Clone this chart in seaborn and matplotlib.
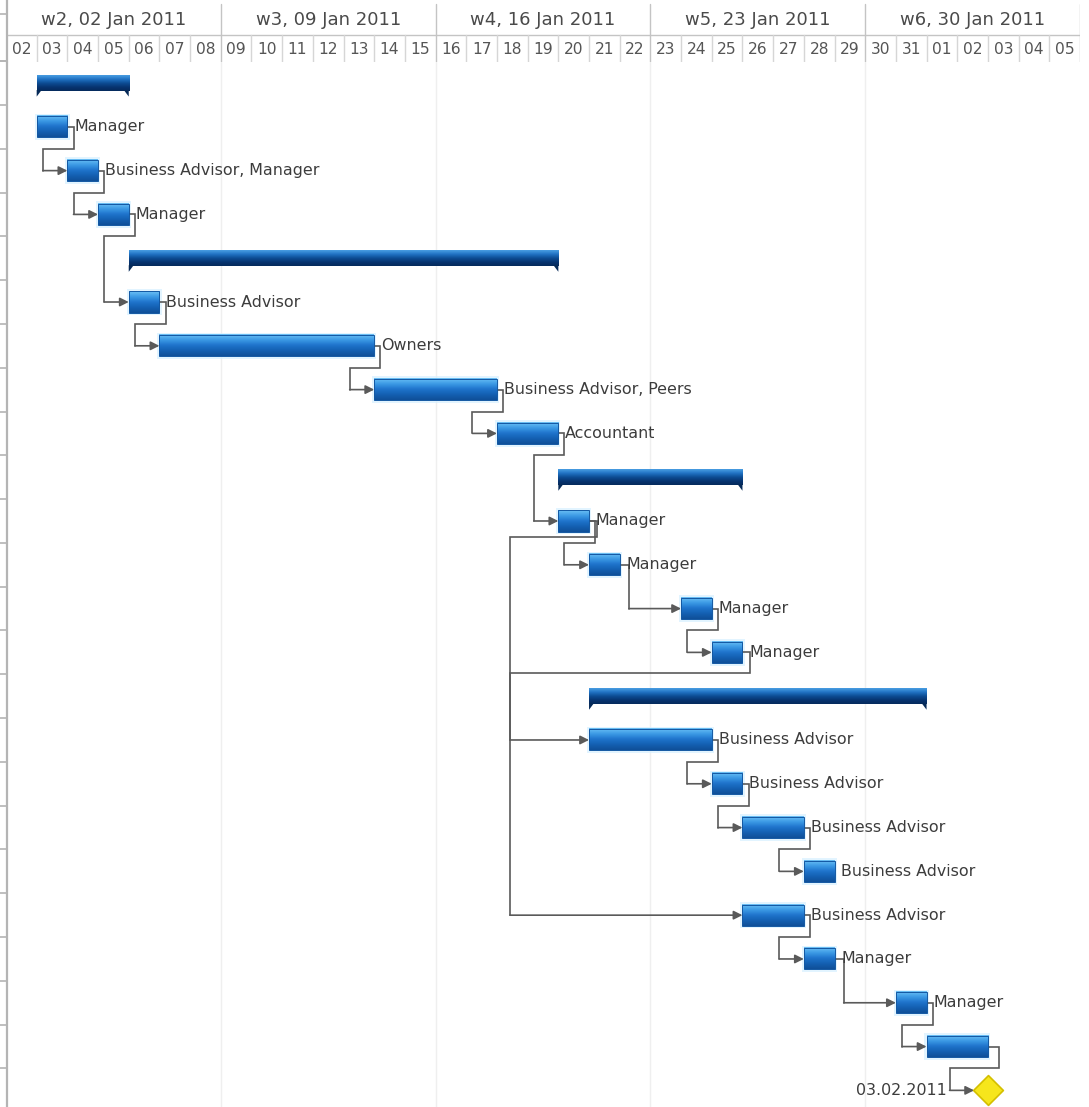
import numpy as np
import matplotlib
matplotlib.use("Agg")
import matplotlib.pyplot as plt
import seaborn as sns
import pandas as pd
from matplotlib.colors import LinearSegmentedColormap
from matplotlib.patches import Rectangle, Polygon

# ---------------- data ----------------
week_labels = ["w2, 02 Jan 2011", "w3, 09 Jan 2011", "w4, 16 Jan 2011",
               "w5, 23 Jan 2011", "w6, 30 Jan 2011"]
week_starts = [0, 7, 14, 21, 28]
day_labels = ["02", "03", "04", "05", "06", "07", "08", "09", "10", "11", "12",
              "13", "14", "15", "16", "17", "18", "19", "20", "21", "22", "23",
              "24", "25", "26", "27", "28", "29", "30", "31", "01", "02", "03",
              "04", "05"]

# day index 0 = 02 Jan 2011
task_start = [1, 1, 2, 3, 4, 4, 5, 12, 16, 18, 18, 19, 22, 23,
              19, 19, 23, 24, 26, 24, 26, 29, 30, 32]
task_end = [4, 2, 3, 4, 18, 5, 12, 16, 18, 24, 19, 20, 23, 24,
            30, 23, 24, 26, 27, 26, 27, 30, 32, 32]
task_kind = ["summary", "task", "task", "task", "summary", "task", "task", "task",
             "task", "summary", "task", "task", "task", "task", "summary", "task",
             "task", "task", "task", "task", "task", "task", "task", "milestone"]
task_label = ["", "Manager", "Business Advisor, Manager", "Manager", "",
              "Business Advisor", "Owners", "Business Advisor, Peers", "Accountant",
              "", "Manager", "Manager", "Manager", "Manager", "",
              "Business Advisor", "Business Advisor", "Business Advisor",
              "Business Advisor", "Business Advisor", "Manager", "Manager", "",
              "03.02.2011"]

dep_from = [1, 2, 3, 5, 6, 7, 8, 10, 11, 12, 10, 13, 15, 16, 17, 19, 20, 21, 22]
dep_to = [2, 3, 5, 6, 7, 8, 10, 11, 12, 13, 15, 19, 16, 17, 18, 20, 21, 22, 23]

df = pd.DataFrame({"row": np.arange(len(task_start)), "start": task_start,
                   "end": task_end, "kind": task_kind, "label": task_label})

# ---------------- style ----------------
sns.set_theme(style="white")
plt.rcParams["font.family"] = ["DejaVu Sans"]

W, H = 1089, 1107
fig = plt.figure(figsize=(W / 100, H / 100), dpi=100)
fig.patch.set_facecolor("white")
x0px, x1px, head_h = 6, 1080, 62
body = fig.add_axes([x0px / W, 0, (x1px - x0px) / W, (H - head_h) / H])
head = fig.add_axes([x0px / W, (H - head_h) / H, (x1px - x0px) / W, head_h / H])
ndays = len(day_labels)
YTOP, YBOT = -0.48, 23.38

text_col = "#3c3c3c"
line_col = "#5a5a5a"

# ---------------- header ----------------
head.set_xlim(0, ndays)
head.set_ylim(head_h, 0)
head.axis("off")
head.plot([0.03, ndays], [35, 35], color="#c4c4c4", lw=1.0)
for i in range(1, ndays + 1):
    if i % 7 == 0:
        head.plot([i, i], [4, head_h], color="#c4c4c4", lw=1.0)
    else:
        head.plot([i, i], [35, head_h], color="#d6d6d6", lw=1.0)
for ws, wl in zip(week_starts, week_labels):
    head.text(ws + 3.5, 20, wl, ha="center", va="center", fontsize=13, color="#4a4a4a")
for i, dl in enumerate(day_labels):
    head.text(i + 0.5, 50, dl, ha="center", va="center", fontsize=11.2, color="#555555")
head.plot([0.03, 0.03], [0, head_h], color="#b4b4b4", lw=1.6, clip_on=False)
for yy in [14, 61]:
    head.plot([-0.2, 0.03], [yy, yy], color="#b4b4b4", lw=1.2, clip_on=False)

# ---------------- body ----------------
body.axis("off")
for wk in range(7, ndays, 7):
    body.plot([wk, wk], [YTOP, YBOT], color="#efefef", lw=1.0, zorder=0)
body.plot([0.03, 0.03], [YTOP, YBOT], color="#b4b4b4", lw=1.6, clip_on=False)
for b in np.arange(-0.5, 23.6, 1.0):
    body.plot([-0.2, 0.03], [b, b], color="#b4b4b4", lw=1.2, clip_on=False)

task_cmap = LinearSegmentedColormap.from_list(
    "task", ["#6cc0f4", "#3d9be6", "#1f74cc", "#1460b2", "#0f4f98"])
sum_cmap = LinearSegmentedColormap.from_list(
    "summ", ["#4a9ee2", "#2173c4", "#0d4d94", "#073470", "#052a5c"])
grad = np.linspace(0, 1, 64).reshape(-1, 1)

TH, SH = 0.48, 0.36
for _, t in df.iterrows():
    r, s, e = t["row"], t["start"], t["end"]
    if t["kind"] == "task":
        body.add_patch(Rectangle((s - 0.07, r - TH / 2 - 0.06), e - s + 0.14, TH + 0.12,
                                 facecolor="#d6f0ff", edgecolor="none", alpha=0.7, zorder=2))
        body.imshow(grad, cmap=task_cmap, extent=(s, e, r + TH / 2, r - TH / 2),
                    aspect="auto", interpolation="bicubic", zorder=3)
        body.add_patch(Rectangle((s, r - TH / 2), e - s, TH, fill=False,
                                 edgecolor="#1358a3", lw=0.7, zorder=4))
        if t["label"]:
            body.text(e + 0.22, r, t["label"], ha="left", va="center",
                      fontsize=11.4, color=text_col, zorder=5)
    elif t["kind"] == "summary":
        body.imshow(grad, cmap=sum_cmap, extent=(s, e, r + SH / 2, r - SH / 2),
                    aspect="auto", interpolation="bicubic", zorder=3)
        yb = r + SH / 2
        body.add_patch(Polygon([(s, yb - 0.02), (s + 0.16, yb - 0.02), (s, yb + 0.13)],
                               closed=True, facecolor="#062a58", edgecolor="none", zorder=4))
        body.add_patch(Polygon([(e, yb - 0.02), (e - 0.16, yb - 0.02), (e, yb + 0.13)],
                               closed=True, facecolor="#062a58", edgecolor="none", zorder=4))

# milestone
ms = df[df["kind"] == "milestone"]
sns.scatterplot(x=ms["start"], y=ms["row"], marker="D", s=230, color="#f6e61c",
                edgecolor="#d4bf00", linewidth=1.2, ax=body, zorder=6, legend=False)
for _, t in ms.iterrows():
    body.text(t["start"] - 1.35, t["row"], t["label"], ha="right", va="center",
              fontsize=11.4, color=text_col, zorder=5)

# connectors
BUS_X = 16.42
for p, q in zip(dep_from, dep_to):
    pe, ss = task_end[p], task_start[q]
    target = ss - 0.45 if task_kind[q] == "milestone" else ss
    if q - p > 2:
        dy = 0.37 if task_end[p] < 20 else 0.46
        xs = [pe, pe + 0.25, pe + 0.25, BUS_X, BUS_X]
        ys = [p, p, p + dy, p + dy, q]
        xprev = BUS_X
    elif ss - pe >= 1.5:
        xs = [pe, pe + 0.3, pe + 0.3]
        ys = [p, p, q]
        xprev = pe + 0.3
    else:
        xt = pe + 0.2 if task_kind[q] != "milestone" else pe + 0.35
        xl = ss - 0.8 if task_kind[q] != "milestone" else ss - 1.25
        xs = [pe, xt, xt, xl, xl]
        ys = [p, p, p + 0.5, p + 0.5, q]
        xprev = xl
    body.plot(xs, ys, color=line_col, lw=1.2, zorder=2, solid_joinstyle="miter")
    body.annotate("", xy=(target, q), xytext=(xprev, q),
                  arrowprops=dict(arrowstyle="-|>", color=line_col, lw=1.2,
                                  mutation_scale=13, shrinkA=0, shrinkB=0),
                  zorder=2)

body.set_xlim(0, ndays)
body.set_ylim(YBOT, YTOP)

fig.savefig("out.png", dpi=100, facecolor="white")
